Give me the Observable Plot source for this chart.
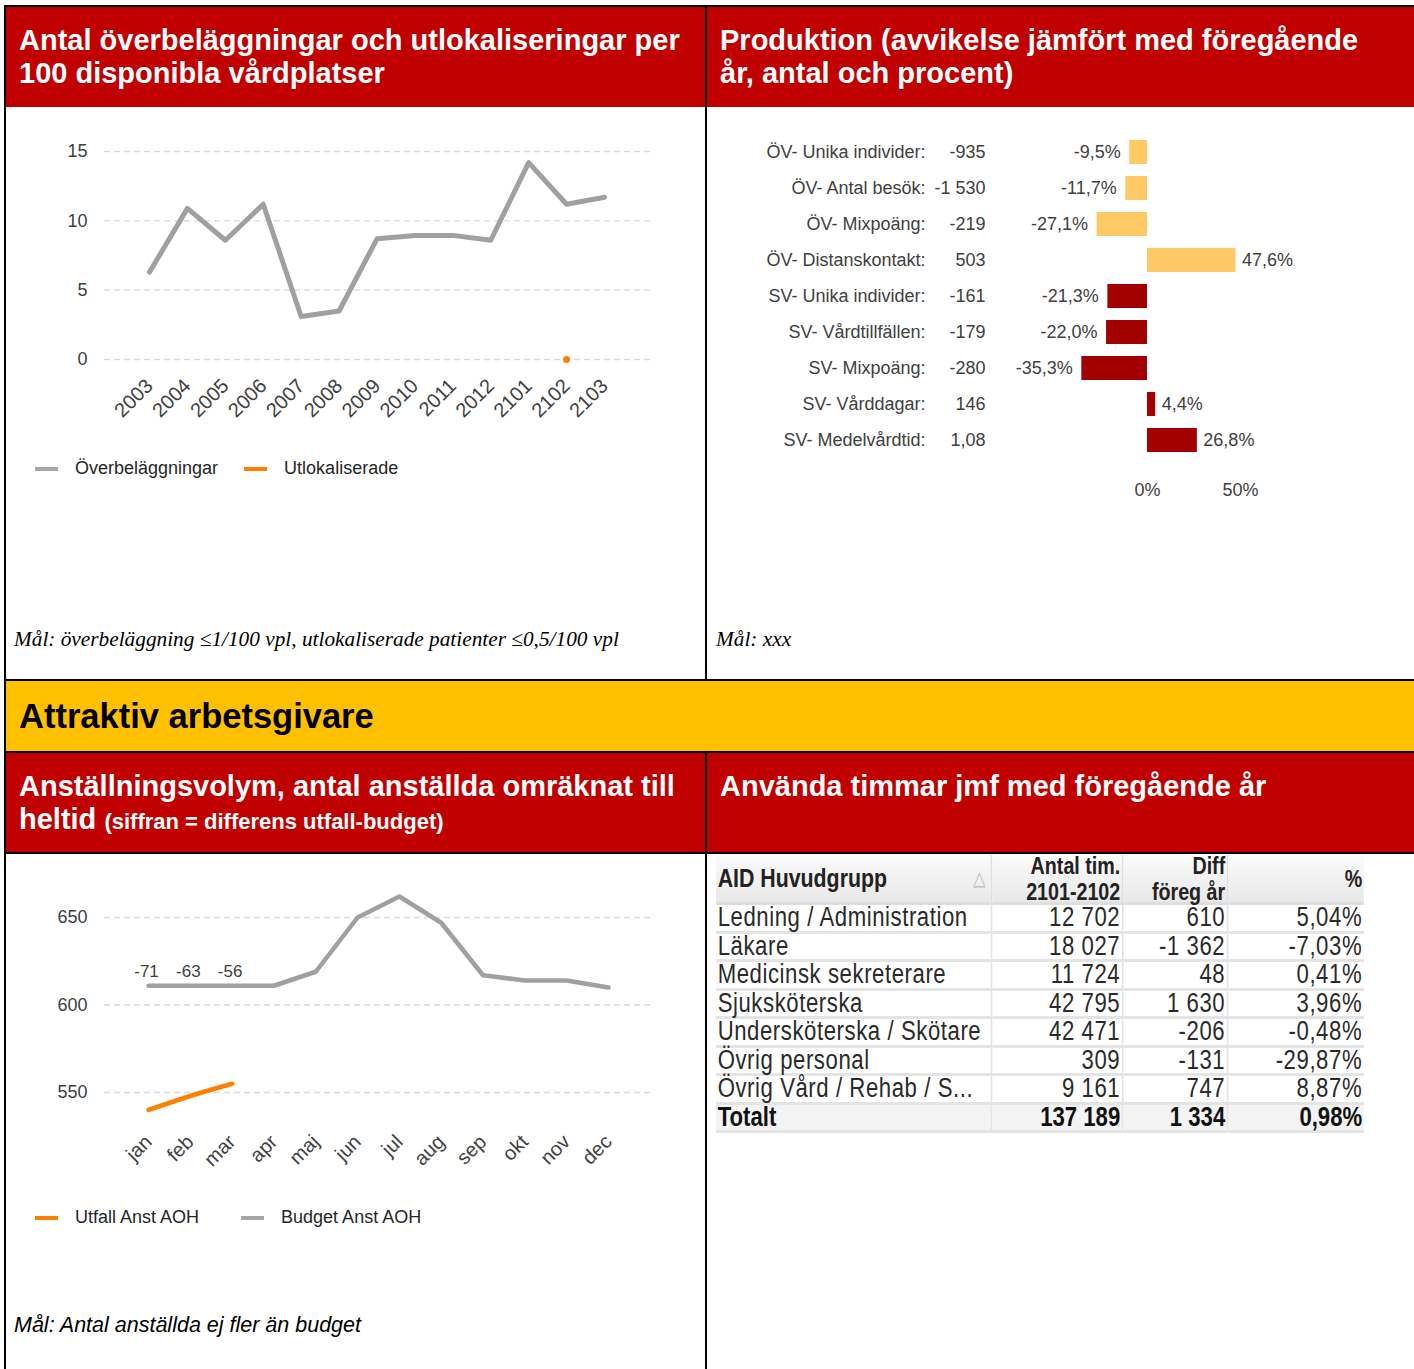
<!DOCTYPE html>
<html><head><meta charset="utf-8">
<script src="https://cdn.jsdelivr.net/npm/d3@7"></script>
<script src="https://cdn.jsdelivr.net/npm/@observablehq/plot@0.6"></script>
<style>
body{margin:0;background:#fff;}
#page{position:relative;width:1414px;height:1369px;overflow:hidden;font-family:"Liberation Sans",Arial,sans-serif;}
.blk{position:absolute;background:#000;}
.hdr{position:absolute;background:#C00000;color:#fff;font-weight:bold;font-size:29px;line-height:33px;box-sizing:border-box;padding:17px 0 0 13px;white-space:nowrap;}
.yel{position:absolute;background:#FFC000;color:#000;font-weight:bold;font-size:34.5px;line-height:36px;box-sizing:border-box;padding:17px 0 0 13px;}
.legend{position:absolute;font-size:18px;color:#262626;display:flex;align-items:center;white-space:nowrap;}
.sw{display:inline-block;width:23px;height:4px;margin-right:17px;}
.cap1{position:absolute;font-family:"Liberation Serif","Times New Roman",serif;font-style:italic;font-size:21.3px;color:#000;white-space:nowrap;}
.cap2{position:absolute;font-family:"Liberation Sans",Arial,sans-serif;font-style:italic;font-size:21.5px;color:#000;white-space:nowrap;}
.chart{position:absolute;}
#tblwrap{position:absolute;left:716px;top:855px;transform:scaleX(0.82);transform-origin:0 0;}
table.t{width:790px;border-collapse:separate;border-spacing:0;font-family:"Liberation Sans",Arial,sans-serif;color:#2a2a2a;table-layout:fixed;}
table.t th{background:linear-gradient(#fbfbfb,#e8e8e8);font-weight:bold;font-size:24px;height:47px;padding:0 2px;border-bottom:3px solid #dedede;border-right:2px solid #dedede;vertical-align:middle;white-space:nowrap;color:#222;}
table.t th .hc{height:47px;line-height:26px;display:flex;flex-direction:column;justify-content:center;}
table.t td{font-size:27px;line-height:25px;height:25.5px;padding:0 2px;border-bottom:3px solid #e4e4e4;border-right:2px solid #e4e4e4;white-space:nowrap;letter-spacing:0.7px;}
table.t td.n, table.t th.n{text-align:right;}
table.t tr.tot td{font-weight:bold;background:#f3f3f3;letter-spacing:0;color:#111;}
table.t th:last-child, table.t td:last-child{border-right:none;}
</style>
</head><body>
<div id="page">
  <div class="blk" style="left:4px;top:5px;width:1410px;height:2px"></div>
  <div class="blk" style="left:4px;top:5px;width:2px;height:1364px"></div>
  <div class="blk" style="left:705px;top:5px;width:2px;height:676px"></div>
  <div class="blk" style="left:705px;top:751px;width:2px;height:618px"></div>
  <div class="blk" style="left:4px;top:679px;width:1410px;height:2px"></div>
  <div class="blk" style="left:4px;top:751px;width:1410px;height:2px"></div>
  <div class="blk" style="left:4px;top:852px;width:1410px;height:2px"></div>

  <div class="hdr" style="left:6px;top:7px;width:699px;height:100px">Antal överbeläggningar och utlokaliseringar per<br>100 disponibla vårdplatser</div>
  <div class="hdr" style="left:707px;top:7px;width:707px;height:100px">Produktion (avvikelse jämfört med föregående<br>år, antal och procent)</div>
  <div class="yel" style="left:6px;top:681px;width:1408px;height:70px">Attraktiv arbetsgivare</div>
  <div class="hdr" style="left:6px;top:753px;width:699px;height:99px">Anställningsvolym, antal anställda omräknat till<br>heltid <span style="font-size:22px">(siffran = differens utfall-budget)</span></div>
  <div class="hdr" style="left:707px;top:753px;width:707px;height:99px">Använda timmar jmf med föregående år</div>

  <div id="c1" class="chart" style="left:0;top:110px"></div>
  <div class="legend" style="left:35px;top:458px">
    <span class="sw" style="background:#a6a6a6"></span>Överbeläggningar
    <span class="sw" style="background:#ff8000;margin-left:26px"></span>Utlokaliserade
  </div>
  <div class="cap1" style="left:14px;top:627px">Mål: överbeläggning ≤1/100 vpl, utlokaliserade patienter ≤0,5/100 vpl</div>

  <div id="c2" class="chart" style="left:707px;top:120px"></div>
  <div class="cap1" style="left:716px;top:627px">Mål: xxx</div>

  <div id="c3" class="chart" style="left:0;top:870px"></div>
  <div class="legend" style="left:35px;top:1207px">
    <span class="sw" style="background:#ff8000"></span>Utfall Anst AOH
    <span class="sw" style="background:#a6a6a6;margin-left:42px"></span>Budget Anst AOH
  </div>
  <div class="cap2" style="left:14px;top:1313px">Mål: Antal anställda ej fler än budget</div>

  <div id="tblwrap"></div>
</div>
<script>
// ---------- Data ----------
const periods = ["2003","2004","2005","2006","2007","2008","2009","2010","2011","2012","2101","2102","2103"];
const overbelaggningar = [6.3, 10.9, 8.6, 11.2, 3.1, 3.5, 8.7, 8.95, 8.95, 8.6, 14.2, 11.2, 11.7];
const utlokaliserade = [null, null, null, null, null, null, null, null, null, null, null, 0, null];

const prodCategories = ["ÖV- Unika individer:","ÖV- Antal besök:","ÖV- Mixpoäng:","ÖV- Distanskontakt:","SV- Unika individer:","SV- Vårdtillfällen:","SV- Mixpoäng:","SV- Vårddagar:","SV- Medelvårdtid:"];
const prodCounts = ["-935","-1 530","-219","503","-161","-179","-280","146","1,08"];
const prodPercent = [-9.5, -11.7, -27.1, 47.6, -21.3, -22.0, -35.3, 4.4, 26.8];
const prodGroup = ["ÖV","ÖV","ÖV","ÖV","SV","SV","SV","SV","SV"];

const months = ["jan","feb","mar","apr","maj","jun","jul","aug","sep","okt","nov","dec"];
const budgetAnst = [611, 611, 611, 611, 619, 650, 662, 647, 617, 614, 614, 610];
const utfallAnst = [540, 548, 555, null, null, null, null, null, null, null, null, null];
const diffAnst = [-71, -63, -56, null, null, null, null, null, null, null, null, null];

const tblHeader = ["AID Huvudgrupp", "Antal tim.<br>2101-2102", "Diff<br>föreg år", "%"];
const tblGroups = ["Ledning / Administration","Läkare","Medicinsk sekreterare","Sjuksköterska","Undersköterska / Skötare","Övrig personal","Övrig Vård / Rehab / S...","Totalt"];
const tblHours = [12702, 18027, 11724, 42795, 42471, 309, 9161, 137189];
const tblDiff = [610, -1362, 48, 1630, -206, -131, 747, 1334];
const tblPct = [5.04, -7.03, 0.41, 3.96, -0.48, -29.87, 8.87, 0.98];

// ---------- helpers ----------
const font = '"Liberation Sans", Arial, sans-serif';
const baseStyle = {fontFamily: font, fontSize: "18px", color: "#404040", background: "transparent", overflow: "visible"};
const sv = d3.formatLocale({decimal: ",", thousands: "\u00a0", grouping: [3], currency: ["", ""], minus: "-"});
const fInt = sv.format(",d");
const fPct1 = v => sv.format(".1f")(v) + "%";
const fPct2 = v => sv.format(".2f")(v) + "%";

// ---------- Chart 1 ----------
const d1 = periods.map((p, i) => ({p, over: overbelaggningar[i], utl: utlokaliserade[i]}));
document.getElementById("c1").append(Plot.plot({
  width: 700, height: 310,
  marginLeft: 104, marginRight: 50, marginTop: 0, marginBottom: 50,
  style: baseStyle,
  x: {type: "point", domain: periods, range: [149, 604], padding: 0, round: false, label: null},
  y: {domain: [0, 15], range: [249, 41], label: null},
  marks: [
    Plot.ruleY([0, 5, 10, 15], {stroke: "#d9d9d9", strokeWidth: 1.3, strokeDasharray: "6,4"}),
    Plot.axisY({ticks: [0, 5, 10, 15], tickSize: 0, tickPadding: 17, label: null}),
    Plot.axisX({tickRotate: -45, tickSize: 0, tickPadding: 12, fontSize: 20, label: null}),
    Plot.line(d1, {x: "p", y: "over", stroke: "#a0a0a0", strokeWidth: 5}),
    Plot.line(d1, {x: "p", y: "utl", stroke: "#ff8000", strokeWidth: 5}),
    Plot.dot(d1.filter(d => d.utl != null), {x: "p", y: "utl", fill: "#ff8000", r: 3.5})
  ]
}));

// ---------- Chart 2 ----------
const d2 = prodCategories.map((c, i) => ({c, n: prodCounts[i], pct: prodPercent[i], g: prodGroup[i]}));
document.getElementById("c2").append(Plot.plot({
  width: 700, height: 390,
  marginLeft: 290, marginRight: 0, marginTop: 0, marginBottom: 40,
  style: baseStyle,
  x: {domain: [0, 50], range: [440, 533], label: null},
  y: {type: "band", domain: prodCategories, range: [14, 338], paddingInner: 1/3, paddingOuter: 1/6, round: false, label: null},
  color: {domain: ["ÖV", "SV"], range: ["#FFCA66", "#A30000"]},
  marks: [
    Plot.axisY({tickSize: 0, tickPadding: 72, label: null}),
    Plot.axisX({ticks: [0, 50], tickSize: 0, tickPadding: 13, tickFormat: d => d + "%", label: null}),
    Plot.barX(d2, {x: "pct", y: "c", fill: "g"}),
    Plot.text(d2, {y: "c", text: "n", frameAnchor: "left", textAnchor: "end", dx: -12}),
    Plot.text(d2.filter(d => d.pct < 0), {x: "pct", y: "c", text: d => fPct1(d.pct), textAnchor: "end", dx: -9}),
    Plot.text(d2.filter(d => d.pct >= 0), {x: "pct", y: "c", text: d => fPct1(d.pct), textAnchor: "start", dx: 6})
  ]
}));

// ---------- Chart 3 ----------
const d3data = months.map((m, i) => ({m, b: budgetAnst[i], u: utfallAnst[i], diff: diffAnst[i]}));
document.getElementById("c3").append(Plot.plot({
  width: 700, height: 310,
  marginLeft: 104, marginRight: 50, marginTop: 0, marginBottom: 55,
  style: baseStyle,
  x: {type: "point", domain: months, range: [148, 608], padding: 0, round: false, label: null},
  y: {domain: [550, 650], range: [222, 47], label: null},
  marks: [
    Plot.ruleY([550, 600, 650], {stroke: "#d9d9d9", strokeWidth: 1.3, strokeDasharray: "6,4"}),
    Plot.axisY({ticks: [550, 600, 650], tickSize: 0, tickPadding: 17, label: null}),
    Plot.axisX({tickRotate: -45, tickSize: 0, tickPadding: 13, fontSize: 20, label: null}),
    Plot.line(d3data, {x: "m", y: "b", stroke: "#a0a0a0", strokeWidth: 4.5}),
    Plot.line(d3data.filter(d => d.u != null), {x: "m", y: "u", stroke: "#ff8000", strokeWidth: 4.5, curve: "natural"}),
    Plot.text(d3data.filter(d => d.diff != null), {x: "m", y: "b", text: d => String(d.diff), dy: -14, dx: -2, fontSize: 17})
  ]
}));

// ---------- Table ----------
let html = '<table class="t"><colgroup><col style="width:337px"><col style="width:160px"><col style="width:128px"><col style="width:165px"></colgroup>';
html += '<tr><th style="text-align:left;font-size:26px"><div class="hc" style="display:block;line-height:47px">' + tblHeader[0] +
  '<span style="float:right;color:#bbb;font-weight:normal;font-size:20px;margin-right:4px">&#x25B3;</span></div></th>';
for (let k = 1; k < 4; k++) html += '<th class="n"><div class="hc">' + tblHeader[k].split("<br>").map(s => '<span>' + s + '</span>').join("") + '</div></th>';
html += '</tr>';
tblGroups.forEach((g, i) => {
  html += '<tr' + (g === "Totalt" ? ' class="tot"' : '') + '><td>' + g + '</td><td class="n">' + fInt(tblHours[i]) +
    '</td><td class="n">' + fInt(tblDiff[i]) + '</td><td class="n">' + fPct2(tblPct[i]) + '</td></tr>';
});
html += '</table>';
document.getElementById("tblwrap").innerHTML = html;
</script>
</body></html>
